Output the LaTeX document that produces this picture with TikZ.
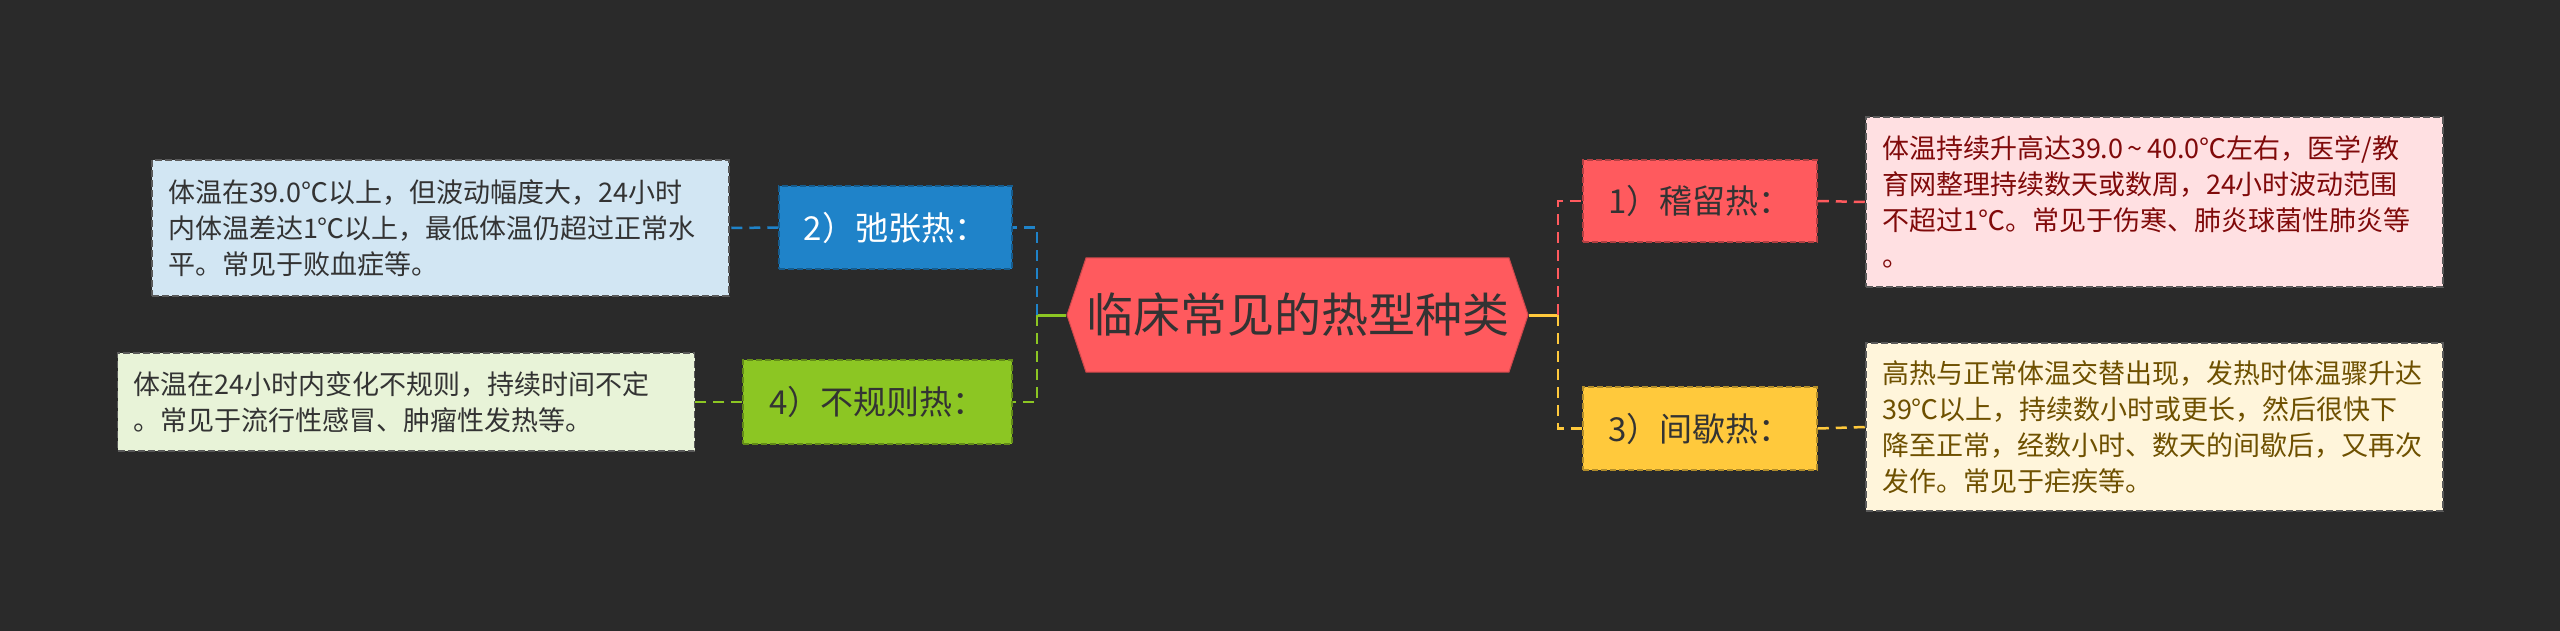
\documentclass[tikz,border=0pt]{standalone}
\usepackage{fontspec}
\setmainfont{Noto Sans CJK SC}
\usetikzlibrary{shapes.symbols}
\definecolor{bg}{HTML}{2A2A2A}
\definecolor{cred}{HTML}{FF5A5E}
\definecolor{cblue}{HTML}{1F83C9}
\definecolor{cgreen}{HTML}{8CC623}
\definecolor{cyellow}{HTML}{FFC93C}
\definecolor{lblue}{HTML}{D2E6F3}
\definecolor{lgreen}{HTML}{E8F3D8}
\definecolor{lpink}{HTML}{FFE0E2}
\definecolor{lyellow}{HTML}{FFF5DB}
\definecolor{tdark}{HTML}{333333}
\definecolor{tred}{HTML}{800A0A}
\definecolor{tbrown}{HTML}{6E5000}
\begin{document}
\begin{tikzpicture}[x=1pt,y=-1pt,
  lbl/.style={rectangle, draw=#1!70!black, fill=#1, dash pattern=on 6pt off 3pt, line width=1.5pt,
    font=\fontsize{33}{38}\selectfont, text=tdark, inner sep=0pt},
  txtbox/.style={rectangle, fill=#1, draw=black!65, dash pattern=on 7pt off 3pt, line width=1.5pt,
    font=\fontsize{27}{36}\selectfont, align=left, inner xsep=16pt, inner ysep=0pt,
    text width=545pt, minimum width=577pt},
  con/.style={draw=#1, line width=2.5pt, dash pattern=on 11pt off 7pt},
  stem/.style={draw=#1, line width=3pt}]
\fill[bg] (0,0) rectangle (2560,631);
\useasboundingbox (0,0) rectangle (2560,631);

% central node
\node[shape=signal, signal to=west and east, signal pointer angle=143, fill=cred, draw=cred!80!black, line width=1pt,
  minimum width=433pt, minimum height=114pt, inner sep=0pt, text=tdark,
  font=\fontsize{47}{56}\selectfont] (c) at (1297.5,315) {临床常见的热型种类};

% label nodes
\node[lbl=cblue, text=white, minimum width=233pt, minimum height=83pt] (b2) at (895.5,227.5) {2）弛张热：};
\node[lbl=cgreen, minimum width=269pt, minimum height=84pt] (b4) at (877.5,402) {4）不规则热：};
\node[lbl=cred, minimum width=234pt, minimum height=82pt] (b1) at (1700,201) {1）稽留热：};
\node[lbl=cyellow, minimum width=234pt, minimum height=83pt] (b3) at (1700,428.5) {3）间歇热：};

% detail boxes
\node[txtbox=lblue, text=tdark, minimum height=136pt] (t2) at (440.5,228)
  {体温在39.0℃以上，但波动幅度大，24小时\\内体温差达1℃以上，最低体温仍超过正常水\\平。常见于败血症等。};
\node[txtbox=lgreen, text=tdark, minimum height=98pt] (t4) at (406,402)
  {体温在24小时内变化不规则，持续时间不定\\。常见于流行性感冒、肿瘤性发热等。};
\node[txtbox=lpink, text=tred, minimum height=170pt] (t1) at (2154.5,202)
  {体温持续升高达39.0\,\textasciitilde\,40.0℃左右，医学/教\\育网整理持续数天或数周，24小时波动范围\\不超过1℃。常见于伤寒、肺炎球菌性肺炎等\\。};
\node[txtbox=lyellow, text=tbrown, minimum height=168pt] (t3) at (2154.5,427)
  {高热与正常体温交替出现，发热时体温骤升达\\39℃以上，持续数小时或更长，然后很快下\\降至正常，经数小时、数天的间歇后，又再次\\发作。常见于疟疾等。};

% connectors
\coordinate (lt) at (1037,315);
\coordinate (rt) at (1558,315);
\draw[stem=cgreen] (c.west) -- (lt);
\draw[stem=cyellow] (c.east) -- (rt);
\draw[con=cblue] (lt) |- (b2.east);
\draw[con=cgreen] (lt) |- (b4.east);
\draw[con=cred] (rt) |- (b1.west);
\draw[con=cyellow] (rt) |- (b3.west);
\draw[con=cblue] (b2.west) -- (t2.east);
\draw[con=cgreen] (b4.west) -- (t4.east);
\draw[con=cred] (b1.east) -- (t1.west);
\draw[con=cyellow] (b3.east) -- (t3.west);
\end{tikzpicture}
\end{document}
